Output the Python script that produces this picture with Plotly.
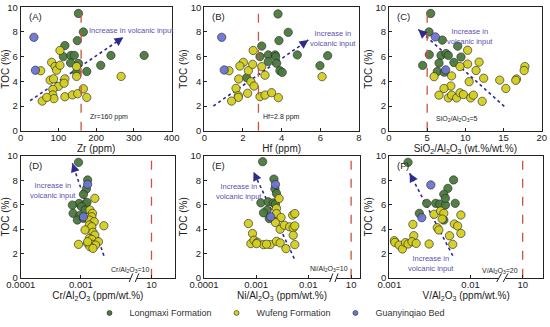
import numpy as np
import plotly.graph_objects as go

# ---------------- data ----------------
# (A) Zr (ppm) vs TOC (%)
A_long_x = [153, 166, 117, 150, 113, 133, 142, 132, 153, 148, 175, 212, 239, 327]
A_long_y = [9.5, 8.0, 6.9, 7.3, 6.0, 6.1, 6.1, 5.5, 5.45, 4.75, 4.8, 5.3, 6.1, 6.1]
A_wuf_x = [53, 104, 82, 91, 95, 104, 78, 87, 100, 117, 115, 148, 148, 85, 85, 88, 57, 69, 117, 137, 151, 166, 175, 266]
A_wuf_y = [4.86, 6.5, 5.54, 5.2, 4.9, 5.3, 4.1, 4.2, 3.6, 4.2, 3.85, 5.2, 4.4, 3.35, 2.9, 2.6, 2.4, 2.7, 2.75, 2.9, 3.0, 3.4, 2.7, 4.4]
A_guan_x = [35, 39]
A_guan_y = [7.57, 4.9]

# (B) Hf (ppm) vs TOC (%)
B_long_x = [3.81, 4.34, 3.86, 2.97, 2.88, 3.31, 3.66, 3.69, 3.31, 3.74, 3.91, 4.03, 4.81, 5.98, 6.38, 2.19]
B_long_y = [9.46, 7.97, 7.3, 6.86, 6.0, 6.14, 6.14, 6.0, 5.6, 5.46, 4.86, 4.73, 6.14, 5.27, 6.08, 4.3]
B_wuf_x = [1.28, 2.53, 2.02, 1.84, 2.28, 2.5, 2.97, 3.14, 1.78, 1.64, 1.76, 1.76, 1.41, 2.24, 2.41, 2.57, 2.88, 3.14, 3.48, 3.83, 6.09]
B_wuf_y = [4.86, 6.5, 5.54, 5.24, 4.86, 5.38, 5.19, 4.5, 4.19, 3.43, 2.84, 2.7, 2.4, 3.03, 3.97, 3.62, 2.76, 2.89, 3.08, 2.68, 4.38]
B_guan_x = [0.9, 1.03]
B_guan_y = [7.57, 4.92]

# (C) SiO2/Al2O3 vs TOC (%)
C_long_x = [5.46, 5.24, 6.99, 9.0, 6.81, 7.47, 7.77, 5.28, 9.43, 6.55, 8.5, 4.41, 6.33, 7.25]
C_long_y = [9.5, 8.0, 7.34, 6.85, 6.1, 6.25, 6.1, 6.16, 5.97, 5.48, 5.53, 5.29, 4.8, 4.74]
C_wuf_x = [10.3, 10.3, 11.8, 11.4, 9.3, 5.9, 8.2, 10.5, 12.4, 14.5, 16.7, 16.6, 17.8, 17.7, 15.3, 8.1, 7.2, 6.55, 7.77, 8.2, 8.86, 9.3, 9.74, 10.7, 11.05, 12.2]
C_wuf_y = [6.52, 5.4, 5.56, 4.88, 5.2, 4.38, 4.44, 3.97, 4.25, 4.1, 4.19, 4.08, 5.2, 4.88, 3.42, 3.62, 3.42, 2.88, 2.66, 2.88, 2.66, 3.07, 2.93, 2.66, 2.88, 2.38]
C_guan_x = [6.07, 7.42]
C_guan_y = [7.6, 4.93]

# (D) Cr/Al2O3 vs TOC (%)
D_long_x = [0.00091, 0.00129, 0.00123, 0.0011, 0.00093, 0.00117, 0.00126, 0.00102, 0.00074, 0.00072, 0.00095, 0.00087, 0.0011, 0.00117]
D_long_y = [9.48, 8.03, 7.29, 6.85, 6.1, 6.05, 6.19, 5.84, 5.29, 5.97, 5.1, 4.74, 4.88, 5.56]
D_wuf_x = [0.0017, 0.00141, 0.00155, 0.00151, 0.00138, 0.00166, 0.00138, 0.00151, 0.0024, 0.00117, 0.00158, 0.0017, 0.00138, 0.00151, 0.00195, 0.00129, 0.00151, 0.00174, 0.00091, 0.00141, 0.00158, 0.00129]
D_wuf_y = [6.52, 5.56, 5.29, 5.01, 4.74, 4.6, 4.33, 4.19, 4.27, 3.92, 3.73, 3.5, 3.23, 3.15, 2.96, 2.82, 2.74, 2.68, 2.74, 2.55, 2.41, 2.96]
D_guan_x = [0.00129, 0.0011]
D_guan_y = [7.67, 5.0]

# (E) Ni/Al2O3 vs TOC (%)
E_long_x = [0.00133, 0.00219, 0.00229, 0.00245, 0.00123, 0.0017, 0.00214, 0.00234, 0.00162, 0.00138, 0.00178]
E_long_y = [9.53, 8.1, 7.3, 6.92, 6.15, 6.24, 6.15, 6.04, 5.55, 5.33, 4.86]
E_wuf_x = [0.00275, 0.00245, 0.00245, 0.003, 0.00234, 0.00288, 0.00071, 0.00085, 0.00079, 0.00091, 0.00105, 0.00138, 0.00186, 0.00245, 0.00288, 0.00372, 0.00347, 0.00437, 0.00513, 0.0055, 0.00501, 0.0055, 0.00513, 0.0055, 0.00102, 0.00158]
E_wuf_y = [6.51, 5.69, 5.27, 4.95, 4.53, 3.98, 4.45, 3.63, 2.8, 3.08, 2.91, 2.72, 2.72, 2.99, 2.86, 2.39, 4.31, 4.18, 4.09, 4.26, 5.14, 5.27, 3.49, 2.72, 2.8, 2.75]
E_guan_x = [0.00234, 0.0019]
E_guan_y = [7.66, 5.0]

# (F) V/Al2O3 vs TOC (%)
F_long_x = [0.0017, 0.00617, 0.00525, 0.00468, 0.00288, 0.00372, 0.00417, 0.0049, 0.0049, 0.00646, 0.00234, 0.00468]
F_long_y = [9.48, 8.03, 7.34, 6.85, 6.11, 6.11, 6.05, 5.97, 6.52, 6.11, 5.29, 4.74]
F_wuf_x = [0.00195, 0.002, 0.00115, 0.00117, 0.00132, 0.00145, 0.00158, 0.0017, 0.0019, 0.00214, 0.00309, 0.00355, 0.00427, 0.00468, 0.00447, 0.00389, 0.00407, 0.0055, 0.00603, 0.00631, 0.00692, 0.00759, 0.00759]
F_wuf_y = [4.38, 3.45, 3.04, 2.9, 2.68, 2.36, 2.88, 2.77, 2.96, 2.82, 2.77, 5.21, 5.48, 5.29, 4.82, 4.11, 3.92, 3.45, 2.74, 4.41, 4.25, 5.15, 3.64]
F_guan_x = [0.00324, 0.00251]
F_guan_y = [7.62, 4.93]

# thresholds
thresholds = [160, 2.8, 5, 10, 10, 10]
threshold_labels = ["Zr=160 ppm", "Hf=2.8 ppm", "SiO<sub>2</sub>/Al<sub>2</sub>O<sub>3</sub>=5",
                    "Cr/Al<sub>2</sub>O<sub>3</sub>=10", "Ni/Al<sub>2</sub>O<sub>3</sub>=10", "V/Al<sub>2</sub>O<sub>3</sub>=20"]

# volcanic input arrows (start -> end)
arrows = [((25, 2.43), (272, 7.57)), ((0.47, 2.0), (5.38, 7.35)), ((15.1, 1.97), (3.84, 8.2)),
          ((0.0024, 1.81), (0.00072, 9.4)), ((0.00537, 1.57), (0.00089, 8.7)), ((0.00603, 1.81), (0.00178, 8.58))]

panel_labels = ["(A)", "(B)", "(C)", "(D)", "(E)", "(F)"]
x_titles = ["Zr (ppm)", "Hf (ppm)", "SiO<sub>2</sub>/Al<sub>2</sub>O<sub>3</sub> (wt.%/wt.%)",
            "Cr/Al<sub>2</sub>O<sub>3</sub> (ppm/wt.%)", "Ni/Al<sub>2</sub>O<sub>3</sub> (ppm/wt.%)", "V/Al<sub>2</sub>O<sub>3</sub> (ppm/wt.%)"]
series_names = ["Longmaxi Formation", "Wufeng Formation", "Guanyinqiao Bed"]

# ---------------- styling / layout ----------------
COL = {"Longmaxi Formation": "#4a7a3c", "Wufeng Formation": "#d3cf1f", "Guanyinqiao Bed": "#6c74d4"}
ARROW_COL = "#2f2b8c"
TEXT_COL = "#5b51b0"
LINE_COL = "#c8553d"
FONT = "Liberation Sans, Arial, sans-serif"

W, H = 550, 327
def px_dom(a, b):
    return [a / W, b / W]
def py_dom(top, bot):
    return [1 - bot / H, 1 - top / H]

x_domains = [px_dom(20.7, 171.7), px_dom(204.3, 359), px_dom(389, 541.7),
             px_dom(20.7, 175), px_dom(204, 360), px_dom(389.3, 543)]
y_domains = [py_dom(7.3, 130.7)] * 3 + [py_dom(156, 277.7)] * 3

# broken log axes for D, E, F: values >= 1 are shifted left by 'shift' decades
log_cfg = {
    3: dict(shift=2.83, rng=[-4, -1.44], brk=[-2.17, -2.07], ticks=[0.0001, 0.001, 10], text=["0.0001", "0.001", "10"]),
    4: dict(shift=2.18, rng=[-4, -1.01], brk=[-1.56, -1.46], ticks=[0.0001, 0.001, 0.01, 10], text=["0.0001", "0.001", "0.01", "10"]),
    5: dict(shift=2.36, rng=[-3, -1.11], brk=[-1.65, -1.57], ticks=[0.001, 0.01, 10], text=["0.001", "0.01", "10"]),
}
lin_cfg = {
    0: dict(rng=[0, 400], ticks=[0, 100, 200, 300, 400]),
    1: dict(rng=[0, 8], ticks=[0, 2, 4, 6, 8]),
    2: dict(rng=[0, 20], ticks=[0, 5, 10, 15, 20]),
}

def tx(i, v):
    v = np.asarray(v, dtype=float)
    if i in log_cfg:
        t = np.log10(v)
        return np.where(v >= 1, t - log_cfg[i]["shift"], t)
    return v

data = {
    0: (A_long_x, A_long_y, A_wuf_x, A_wuf_y, A_guan_x, A_guan_y),
    1: (B_long_x, B_long_y, B_wuf_x, B_wuf_y, B_guan_x, B_guan_y),
    2: (C_long_x, C_long_y, C_wuf_x, C_wuf_y, C_guan_x, C_guan_y),
    3: (D_long_x, D_long_y, D_wuf_x, D_wuf_y, D_guan_x, D_guan_y),
    4: (E_long_x, E_long_y, E_wuf_x, E_wuf_y, E_guan_x, E_guan_y),
    5: (F_long_x, F_long_y, F_wuf_x, F_wuf_y, F_guan_x, F_guan_y),
}

fig = go.Figure()
shapes, annotations = [], []

for i in range(6):
    xa = "x" if i == 0 else f"x{i+1}"
    ya = "y" if i == 0 else f"y{i+1}"
    lx, ly, wx, wy, gx, gy = data[i]
    (sx, sy), (ex, ey) = arrows[i]
    tsx, tex_ = float(tx(i, [sx])[0]), float(tx(i, [ex])[0])
    fig.add_trace(go.Scatter(x=[tsx, tex_], y=[sy, ey], xaxis=xa, yaxis=ya, mode="lines",
                             line=dict(color=ARROW_COL, width=1.6, dash="dot"),
                             showlegend=False, hoverinfo="skip"))
    for (xs, ys, name) in [(lx, ly, series_names[0]), (wx, wy, series_names[1]), (gx, gy, series_names[2])]:
        fig.add_trace(go.Scatter(x=tx(i, xs), y=ys, xaxis=xa, yaxis=ya, mode="markers", name=name,
                                 legendgroup=name, showlegend=False,
                                 marker=dict(size=8.3, color=COL[name], opacity=0.95,
                                             line=dict(color="#2b2b2b", width=0.7))))
    thr = float(tx(i, [thresholds[i]])[0])
    fig.add_trace(go.Scatter(x=[thr, thr], y=[0, 10], xaxis=xa, yaxis=ya, mode="lines",
                             line=dict(color=LINE_COL, width=1.3, dash="dash"),
                             showlegend=False, hoverinfo="skip"))
    hx = tex_ - 0.06 * (tex_ - tsx)
    hy = ey - 0.06 * (ey - sy)
    annotations.append(dict(x=tex_, y=ey, ax=hx, ay=hy, xref=xa, yref=ya, axref=xa, ayref=ya,
                            showarrow=True, arrowhead=2, arrowsize=1.1, arrowwidth=1.6,
                            arrowcolor=ARROW_COL, text=""))
    annotations.append(dict(x=0.04, y=0.985, xref=f"{xa} domain", yref=f"{ya} domain", text=panel_labels[i],
                            showarrow=False, xanchor="left", yanchor="top",
                            font=dict(size=9.5, color="#222", family=FONT)))

    if i in log_cfg:
        c = log_cfg[i]
        xaxis = dict(range=c["rng"], tickvals=list(tx(i, c["ticks"])), ticktext=c["text"])
        b0, b1 = c["brk"]
        shapes.append(dict(type="rect", xref=xa, yref=f"{ya} domain", x0=b0, x1=b1, y0=-0.03, y1=0.03,
                           fillcolor="white", line=dict(width=0), layer="above"))
        for bb in (b0, b1):
            shapes.append(dict(type="line", xref=xa, yref=f"{ya} domain", x0=bb - 0.03, x1=bb + 0.03,
                               y0=-0.035, y1=0.035, line=dict(color="#222", width=1), layer="above"))
    else:
        c = lin_cfg[i]
        xaxis = dict(range=c["rng"], tickvals=c["ticks"])
    xaxis.update(domain=x_domains[i], anchor=ya, showline=True, mirror=True, linecolor="#222", linewidth=1,
                 ticks="inside", ticklen=3, tickcolor="#222", showgrid=False, zeroline=False,
                 automargin=False, ticklabelstandoff=-2,
                 tickfont=dict(size=9.5, color="#222", family=FONT),
                 title=dict(text=x_titles[i], standoff=1, font=dict(size=10, color="#222", family=FONT)))
    yaxis = dict(domain=y_domains[i], anchor=xa, range=[0, 10], tickvals=[0, 2, 4, 6, 8, 10],
                 showline=True, mirror=True, linecolor="#222", linewidth=1, ticks="inside", ticklen=3,
                 tickcolor="#222", showgrid=False, zeroline=False, automargin=False,
                 tickfont=dict(size=9.5, color="#222", family=FONT),
                 title=dict(text="TOC (%)", standoff=1, font=dict(size=10, color="#222", family=FONT)))
    fig.layout["xaxis" if i == 0 else f"xaxis{i+1}"] = xaxis
    fig.layout["yaxis" if i == 0 else f"yaxis{i+1}"] = yaxis

# legend-only entries (small symbols like the reference)
for name in series_names:
    fig.add_trace(go.Scatter(x=[None], y=[None], mode="markers", name=name, legendgroup=name,
                             showlegend=True,
                             marker=dict(size=5, color=COL[name], line=dict(color="#2b2b2b", width=0.6))))

vol_text = [
    (294, 8.1, "Increase in volcanic input"),
    (6.67, 7.45, "Increase in<br>volcanic input"),
    (10.6, 7.6, "Increase in<br>volcanic input"),
    (0.00035, 7.15, "Increase in<br>volcanic input"),
    (0.00047, 7.05, "Increase in<br>volcanic input"),
    (0.00324, 1.2, "Increase in<br>volcanic input"),
]
thr_pos = [(177, 1.14), (2.93, 1.14), (5.9, 0.96), (0.0029, 0.63), (0.01, 0.74), (0.0129, 0.55)]
for i in range(6):
    xa = "x" if i == 0 else f"x{i+1}"
    ya = "y" if i == 0 else f"y{i+1}"
    vx, vy, t = vol_text[i]
    annotations.append(dict(x=float(tx(i, [vx])[0]), y=vy, xref=xa, yref=ya, text=t, showarrow=False,
                            xanchor="center", font=dict(size=7.5, color=TEXT_COL, family=FONT)))
    px_, py_ = thr_pos[i]
    annotations.append(dict(x=float(tx(i, [px_])[0]), y=py_, xref=xa, yref=ya, text=threshold_labels[i],
                            showarrow=False, xanchor="left",
                            font=dict(size=7, color="#222", family=FONT)))

fig.update_layout(
    width=W, height=H, margin=dict(l=0, r=0, t=0, b=0, autoexpand=False),
    paper_bgcolor="white", plot_bgcolor="white",
    shapes=shapes, annotations=annotations,
    legend=dict(orientation="h", x=0.49, y=0.043, xanchor="center", yanchor="middle",
                font=dict(size=9, color="#333", family=FONT), itemsizing="trace",
                itemwidth=30, tracegroupgap=0, bgcolor="rgba(0,0,0,0)"),
)

fig.write_html("out.html", config={"displayModeBar": False},
               post_script="document.body.style.margin='0px';")
